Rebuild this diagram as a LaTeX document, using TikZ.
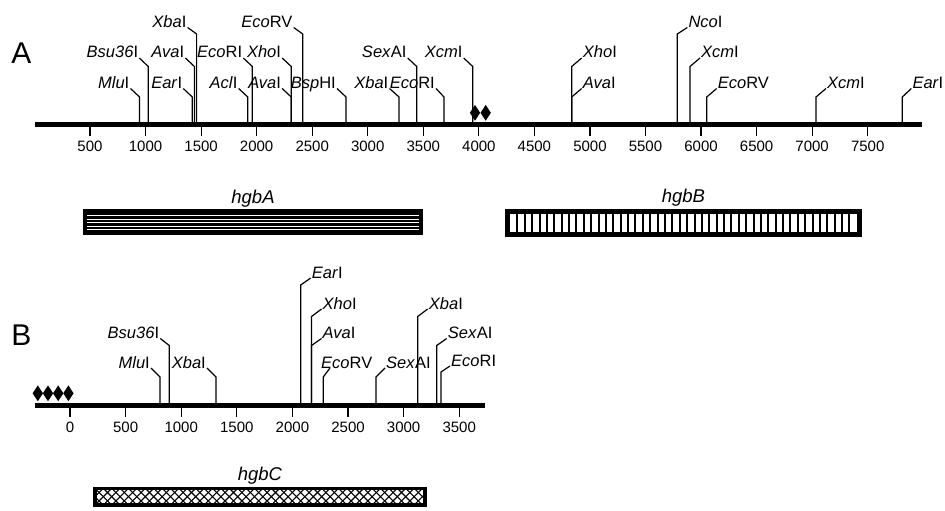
\documentclass[tikz,border=0pt]{standalone}
\usepackage{fontspec}
\setmainfont{Liberation Sans}
\usetikzlibrary{positioning,shapes.geometric}
\begin{document}
\begin{tikzpicture}[x=1pt, y=-1pt,
  axis/.style={line width=5pt},
  tick/.style={line width=1.2pt},
  site/.style={line width=1.2pt},
  lbl/.style={font=\fontsize{16.5}{19}\selectfont, inner sep=1pt},
  lft/.style={lbl, anchor=base east},
  rgt/.style={lbl, anchor=base west},
  num/.style={font=\fontsize{15}{18}\selectfont, inner sep=0pt, below=4pt},
  panel/.style={font=\fontsize{30}{34}\selectfont},
  gname/.style={font=\fontsize{18.5}{22}\selectfont\itshape, inner sep=0pt},
  gene/.style={draw, inner sep=0pt},
  dmd/.style={diamond, fill=black, inner sep=0pt, minimum width=10.5pt, minimum height=16pt}
]
\useasboundingbox (0,0) rectangle (945,511);

% panel A: map of the 8 kb fragment
\node[panel] (pA) at (21.5,53) {A};
\coordinate (a0) at (35,124);
\coordinate (a1) at (922,124);
\draw[axis] (a0) -- (a1);
\foreach \t in {500,1000,...,7500}
  \draw[tick] ({34.45+0.1111*\t},124) -- ++(0,12) node[num] (nA\t) {\t};
\node[dmd] (dA1) at (475,112.8) {};
\node[dmd] (dA2) at (485.7,112.8) {};

\coordinate (sMluA) at (139.5,124);
\node[lft] (tMluA) at (130.5,88.5) {\textit{Mlu}I};
\draw[site] (sMluA) -- ++(0,-27) -- (tMluA.base east);
\coordinate (sBsuA) at (148.3,124);
\node[lft] (tBsuA) at (139.3,58) {\textit{Bsu36}I};
\draw[site] (sBsuA) -- ++(0,-57.5) -- (tBsuA.base east);
\coordinate (sEarA) at (192.3,124);
\node[lft] (tEarA) at (183.3,88.5) {\textit{Ear}I};
\draw[site] (sEarA) -- ++(0,-27) -- (tEarA.base east);
\coordinate (sAvaA) at (194.4,124);
\node[lft] (tAvaA) at (185.4,58) {\textit{Ava}I};
\draw[site] (sAvaA) -- ++(0,-57.5) -- (tAvaA.base east);
\coordinate (sXbaA) at (196.6,124);
\node[lft] (tXbaA) at (187.6,27.5) {\textit{Xba}I};
\draw[site] (sXbaA) -- ++(0,-90) -- (tXbaA.base east);
\coordinate (sAclA) at (247.7,124);
\node[lft] (tAclA) at (238.7,88.5) {\textit{Acl}I};
\draw[site] (sAclA) -- ++(0,-27) -- (tAclA.base east);
\coordinate (sEcoA) at (252.3,124);
\node[lft] (tEcoA) at (243.3,58) {\textit{Eco}RI};
\draw[site] (sEcoA) -- ++(0,-57.5) -- (tEcoA.base east);
\coordinate (sAvaAb) at (291.2,124);
\node[lft] (tAvaAb) at (282.2,88.5) {\textit{Ava}I};
\draw[site] (sAvaAb) -- ++(0,-27) -- (tAvaAb.base east);
\coordinate (sXhoA) at (291.2,124);
\node[lft] (tXhoA) at (282.2,58) {\textit{Xho}I};
\draw[site] (sXhoA) -- ++(0,-57.5) -- (tXhoA.base east);
\coordinate (sEcvA) at (302.7,124);
\node[lft] (tEcvA) at (293.7,27.5) {\textit{Eco}RV};
\draw[site] (sEcvA) -- ++(0,-90) -- (tEcvA.base east);
\coordinate (sBspA) at (346,124);
\node[lft] (tBspA) at (337,88.5) {\textit{Bsp}HI};
\draw[site] (sBspA) -- ++(0,-27) -- (tBspA.base east);
\coordinate (sXbaAb) at (399,124);
\node[lft] (tXbaAb) at (389.5,88.5) {\textit{Xba}I};
\draw[site] (sXbaAb) -- ++(0,-27) -- (tXbaAb.base east);
\coordinate (sSexA) at (416.7,124);
\node[lft] (tSexA) at (407.7,58) {\textit{Sex}AI};
\draw[site] (sSexA) -- ++(0,-57.5) -- (tSexA.base east);
\coordinate (sEcoAb) at (444,124);
\node[lft] (tEcoAb) at (436,88.5) {\textit{Eco}RI};
\draw[site] (sEcoAb) -- ++(0,-27) -- (tEcoAb.base east);
\coordinate (sXcmA) at (472.7,124);
\node[lft] (tXcmA) at (463.7,58) {\textit{Xcm}I};
\draw[site] (sXcmA) -- ++(0,-57.5) -- (tXcmA.base east);
\coordinate (sXhoAb) at (571.7,124);
\node[rgt] (tXhoAb) at (581.7,58) {\textit{Xho}I};
\draw[site] (sXhoAb) -- ++(0,-57.5) -- (tXhoAb.base west);
\coordinate (sAvaAc) at (571.7,124);
\node[rgt] (tAvaAc) at (581.7,88.5) {\textit{Ava}I};
\draw[site] (sAvaAc) -- ++(0,-27) -- (tAvaAc.base west);
\coordinate (sNcoA) at (677.3,124);
\node[rgt] (tNcoA) at (687.3,27.5) {\textit{Nco}I};
\draw[site] (sNcoA) -- ++(0,-90) -- (tNcoA.base west);
\coordinate (sXcmAb) at (690,124);
\node[rgt] (tXcmAb) at (700,58) {\textit{Xcm}I};
\draw[site] (sXcmAb) -- ++(0,-57.5) -- (tXcmAb.base west);
\coordinate (sEcvAb) at (706.7,124);
\node[rgt] (tEcvAb) at (716.7,88.5) {\textit{Eco}RV};
\draw[site] (sEcvAb) -- ++(0,-27) -- (tEcvAb.base west);
\coordinate (sXcmAc) at (816,124);
\node[rgt] (tXcmAc) at (826,88.5) {\textit{Xcm}I};
\draw[site] (sXcmAc) -- ++(0,-27) -- (tXcmAc.base west);
\coordinate (sEarAb) at (902.3,124);
\node[rgt] (tEarAb) at (911.3,88.5) {\textit{Ear}I};
\draw[site] (sEarAb) -- ++(0,-27) -- (tEarAb.base west);

% genes of panel A
\node[gene, line width=4pt, fill=black, minimum width=335.4pt, minimum height=21.7pt,
  path picture={\foreach \d in {6.4,3,-0.4,-3.8,-7}
    \draw[white, line width=1pt] ([yshift=\d pt]path picture bounding box.west) -- ([yshift=\d pt]path picture bounding box.east);}] (gA) at (253,222.2) {};
\node[gname, above=2pt of gA] (lA) {hgbA};
\node[gene, line width=5pt, fill=white, minimum width=351.7pt, minimum height=22.5pt,
  path picture={\foreach \k in {1,...,46}
    \draw[line width=2pt] ([xshift={2.5+\k*7.38}]path picture bounding box.south west) -- ++(0,-30);}] (gB) at (683.35,222.75) {};
\node[gname, above=2pt of gB] (lB) {hgbB};

% panel B
\node[panel] (pB) at (21.5,335) {B};
\coordinate (b0) at (35,405);
\coordinate (b1) at (485,405);
\draw[axis] (b0) -- (b1);
\foreach \t in {0,500,...,3500}
  \draw[tick] ({70+0.1112*\t},405) -- ++(0,12) node[num] (nB\t) {\t};
\node[dmd] (dB1) at (37.8,393.3) {};
\node[dmd] (dB2) at (48,393.3) {};
\node[dmd] (dB3) at (58.2,393.3) {};
\node[dmd] (dB4) at (68.4,393.3) {};

\coordinate (sMluB) at (160,405);
\node[lft] (tMluB) at (151,368) {\textit{Mlu}I};
\draw[site] (sMluB) -- ++(0,-28) -- (tMluB.base east);
\coordinate (sBsuB) at (169.3,405);
\node[lft] (tBsuB) at (160.3,338.5) {\textit{Bsu36}I};
\draw[site] (sBsuB) -- ++(0,-59.5) -- (tBsuB.base east);
\coordinate (sXbaB) at (216,405);
\node[lft] (tXbaB) at (207,368) {\textit{Xba}I};
\draw[site] (sXbaB) -- ++(0,-28) -- (tXbaB.base east);
\coordinate (sEarB) at (300.7,405);
\node[rgt] (tEarB) at (310.7,278) {\textit{Ear}I};
\draw[site] (sEarB) -- ++(0,-120) -- (tEarB.base west);
\coordinate (sXhoB) at (311.5,405);
\node[rgt] (tXhoB) at (321.5,309) {\textit{Xho}I};
\draw[site] (sXhoB) -- ++(0,-88.5) -- (tXhoB.base west);
\coordinate (sAvaB) at (311.5,405);
\node[rgt] (tAvaB) at (321.5,338.5) {\textit{Ava}I};
\draw[site] (sAvaB) -- ++(0,-59.5) -- (tAvaB.base west);
\coordinate (sEcvB) at (323.3,405);
\node[rgt] (tEcvB) at (320,368) {\textit{Eco}RV};
\draw[site] (sEcvB) -- ++(0,-28) -- ([xshift=10pt]tEcvB.base west);
\coordinate (sSexB) at (376,405);
\node[rgt] (tSexB) at (385,368) {\textit{Sex}AI};
\draw[site] (sSexB) -- ++(0,-28) -- (tSexB.base west);
\coordinate (sXbaBb) at (417.7,405);
\node[rgt] (tXbaBb) at (427.7,309) {\textit{Xba}I};
\draw[site] (sXbaBb) -- ++(0,-88.5) -- (tXbaBb.base west);
\coordinate (sSexBb) at (436.7,405);
\node[rgt] (tSexBb) at (446.7,338.5) {\textit{Sex}AI};
\draw[site] (sSexBb) -- ++(0,-59.5) -- (tSexBb.base west);
\coordinate (sEcoB) at (441,405);
\node[rgt] (tEcoB) at (450,366) {\textit{Eco}RI};
\draw[site] (sEcoB) -- ++(0,-33) -- (tEcoB.base west);

% gene of panel B
\node[gene, line width=3.5pt, fill=white, minimum width=329.9pt, minimum height=16.5pt,
  path picture={\foreach \k in {-3,...,42} {
    \draw[line width=1.1pt] ([xshift=\k*8.4pt]path picture bounding box.south west) -- ++(22,-22);
    \draw[line width=1.1pt] ([xshift=\k*8.4pt]path picture bounding box.north west) -- ++(22,22);}}] (gC) at (260,496.7) {};
\node[gname, above=2pt of gC] (lC) {hgbC};
\end{tikzpicture}
\end{document}
